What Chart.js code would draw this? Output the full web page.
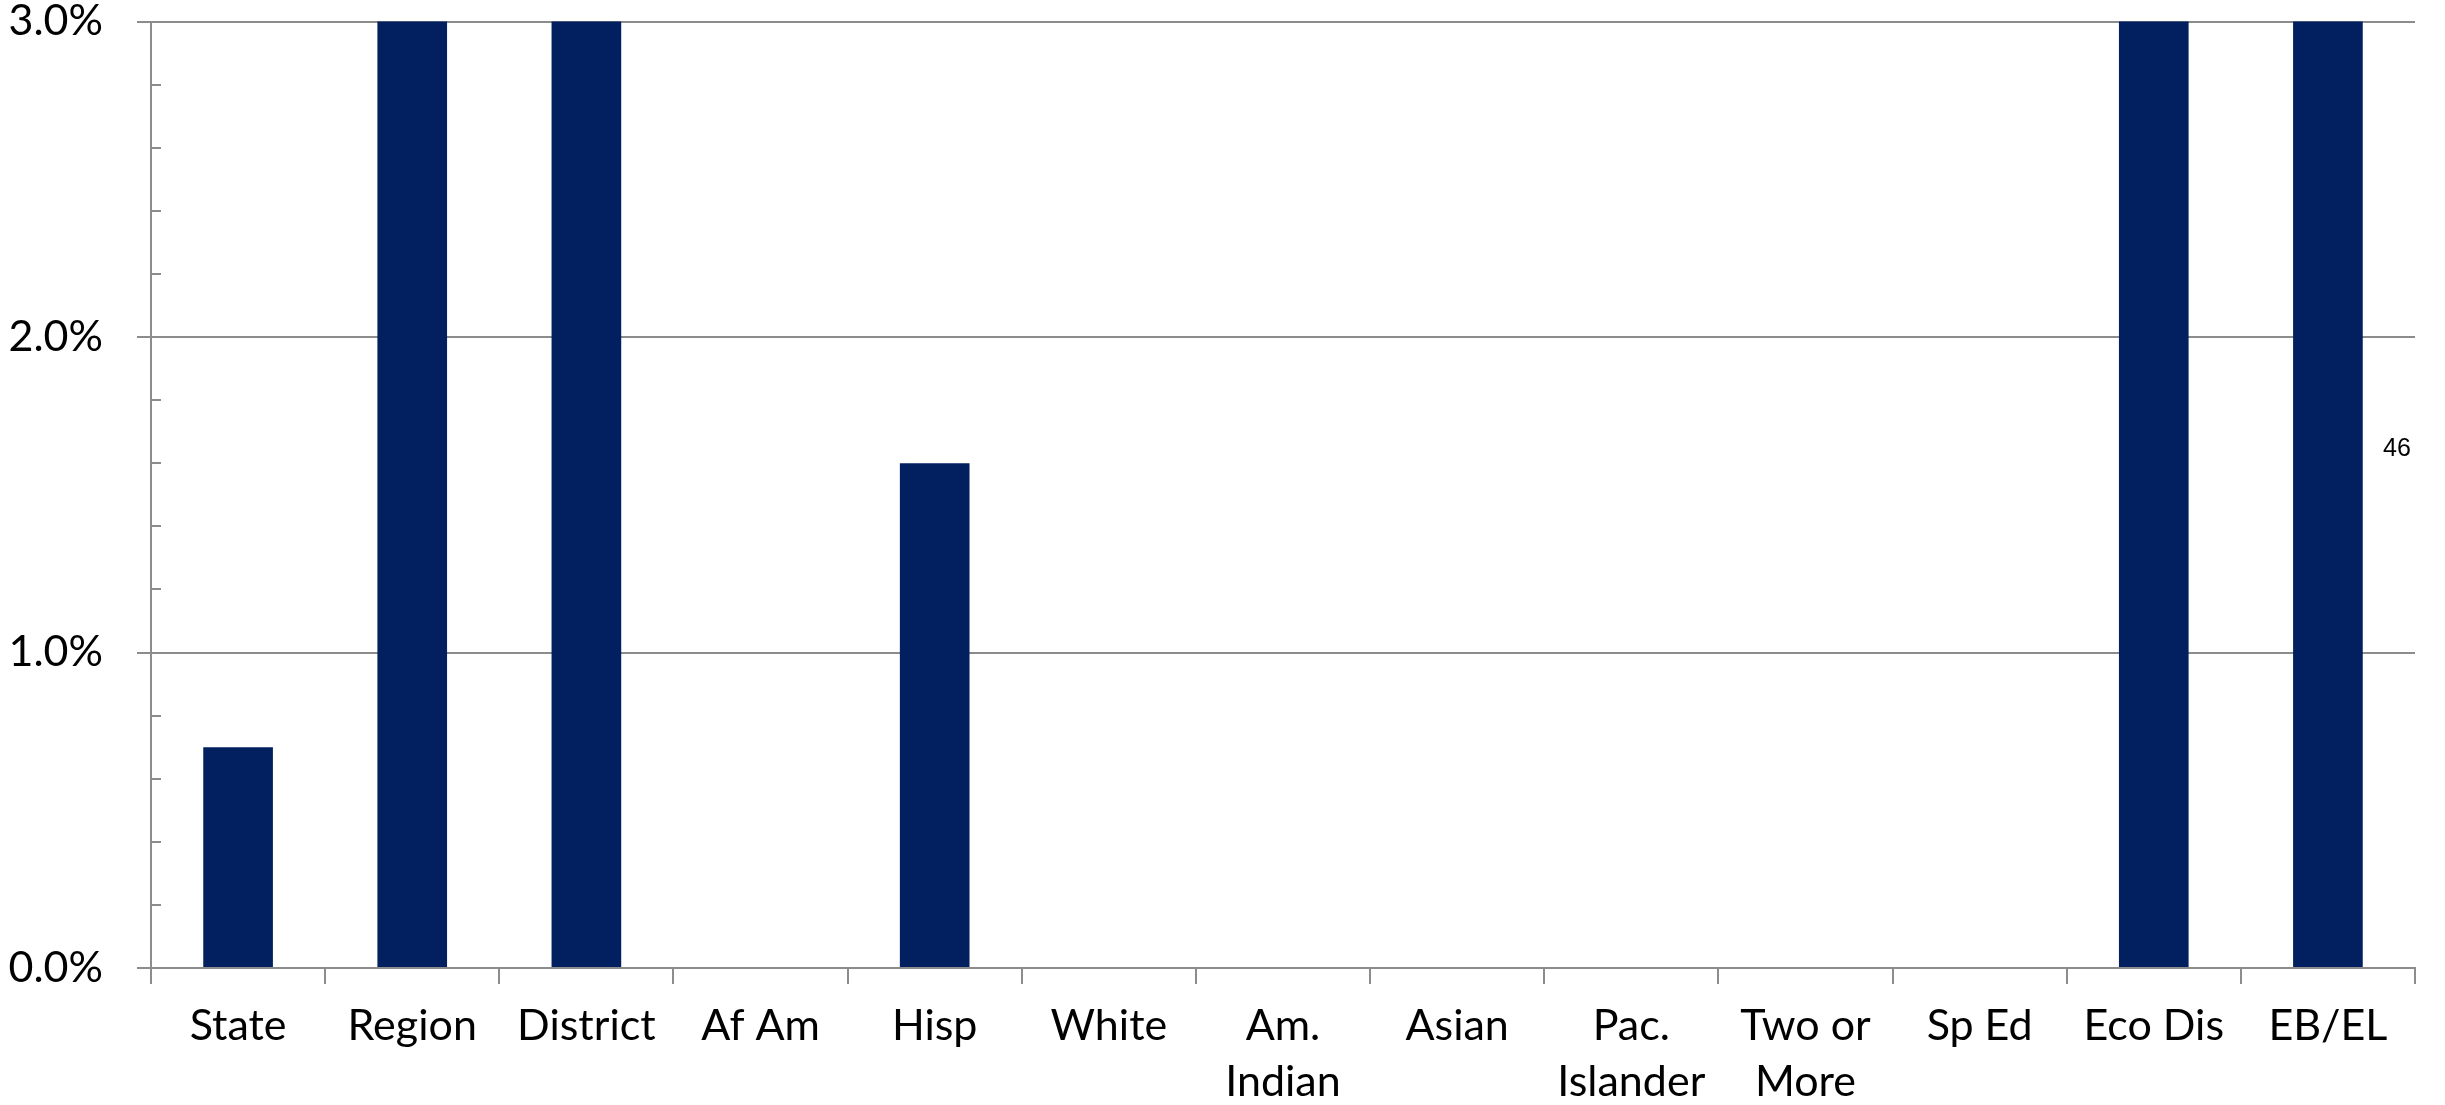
<!DOCTYPE html>
<html>
<head>
<meta charset="utf-8">
<script src="https://cdn.jsdelivr.net/npm/chart.js@4"></script>
<style>
  html, body { margin: 0; padding: 0; background: #fff; }
  #wrap { width: 2445px; height: 1105px; }
</style>
</head>
<body>
<div id="wrap"><canvas id="RateCanvas"></canvas></div>
<script>
// categories and values (percent); bars above 3% run off the top of the axis
const categories = ['State', 'Region', 'District', 'Af Am', 'Hisp', 'White',
    ['Am.', 'Indian'], 'Asian', ['Pac.', 'Islander'], ['Two or', 'More'], 'Sp Ed', 'Eco Dis', 'EB/EL'];
const rateValues = [0.7, 3.8, 3.6, 0, 1.6, 0, 0, 0, 0, 0, 0, 4.2, 4.6];
const yMajorTicks = [0, 1, 2, 3];
const sideNote = '46';

const isMajor = v => yMajorTicks.some(m => Math.abs(m - v) < 1e-6);
const gray = '#8c8c8c';

// y tick marks: minor ones point into the plot, major ones stick out to the left
const yTickMarks = {
    id: 'yTickMarks',
    afterDraw(chart) {
        const ctx = chart.ctx;
        const y = chart.scales.y;
        const area = chart.chartArea;
        ctx.save();
        ctx.strokeStyle = gray;
        ctx.lineWidth = 2;
        y.ticks.forEach(t => {
            const py = Math.round(y.getPixelForValue(t.value));
            ctx.beginPath();
            if (isMajor(t.value)) {
                ctx.moveTo(area.left - 14, py);
                ctx.lineTo(area.left, py);
            } else {
                ctx.moveTo(area.left, py);
                ctx.lineTo(area.left + 10, py);
            }
            ctx.stroke();
        });
        // stray label to the right of the last bar
        ctx.fillStyle = '#000';
        ctx.font = '25px "Liberation Sans"';
        ctx.textAlign = 'center';
        ctx.textBaseline = 'middle';
        ctx.fillText(sideNote, area.right - 18, area.top + 428);
        ctx.restore();
    }
};

new Chart(document.getElementById('RateCanvas'), {
    type: 'bar',
    data: {
        labels: categories,
        datasets: [{
            label: 'Rate',
            data: rateValues,
            backgroundColor: '#022060',
            barPercentage: 0.4,
            categoryPercentage: 1.0
        }]
    },
    options: {
        responsive: true,
        maintainAspectRatio: false,
        animation: false,
        layout: { padding: { left: 0, right: 30, top: 0, bottom: 0 } },
        plugins: { legend: { display: false }, tooltip: { enabled: false } },
        scales: {
            x: {
                afterFit: s => { s.height = 137; },
                grid: {
                    offset: true,
                    drawOnChartArea: false,
                    color: gray,
                    lineWidth: 2,
                    tickLength: 16
                },
                border: { color: gray, width: 2 },
                ticks: {
                    color: '#000',
                    font: { family: 'Lato', size: 43, lineHeight: 1.3 },
                    maxRotation: 0,
                    autoSkip: false,
                    padding: 14
                }
            },
            y: {
                min: 0,
                max: 3,
                afterFit: s => { s.width = 151; },
                grid: {
                    color: ctx => isMajor(ctx.tick.value) ? gray : 'rgba(0,0,0,0)',
                    tickColor: 'rgba(0,0,0,0)',
                    lineWidth: 2,
                    tickLength: 48
                },
                border: { color: gray, width: 2 },
                ticks: {
                    stepSize: 0.2,
                    autoSkip: false,
                    color: '#000',
                    font: { family: 'Lato', size: 43, lineHeight: 1.0 },
                    padding: 0,
                    callback: v => isMajor(v) ? Math.round(v).toFixed(1) + '%' : ''
                }
            }
        }
    },
    plugins: [yTickMarks]
});
</script>
</body>
</html>
